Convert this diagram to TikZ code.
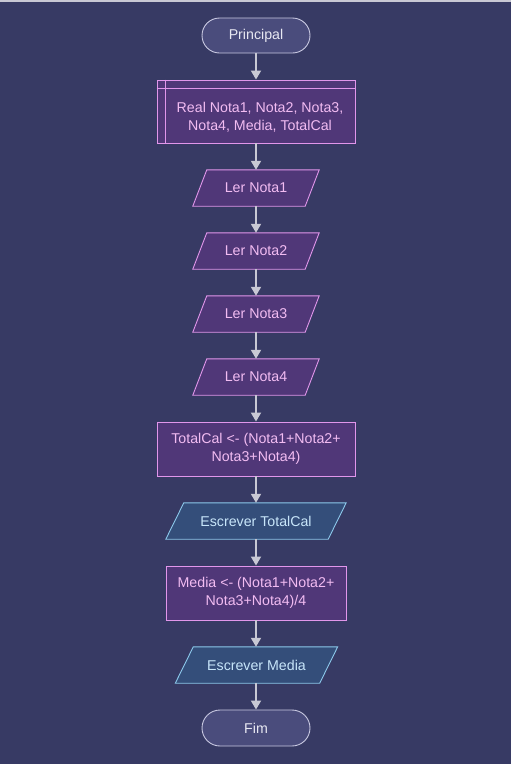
\documentclass[tikz,border=0pt]{standalone}
\usepackage{fontspec}
\setmainfont{Liberation Sans}
\usetikzlibrary{arrows.meta,backgrounds}
\definecolor{bgc}{RGB}{55,58,100}
\definecolor{termfill}{RGB}{74,76,124}
\definecolor{termdraw}{RGB}{200,200,225}
\definecolor{termtext}{RGB}{232,232,242}
\definecolor{procfill}{RGB}{80,55,120}
\definecolor{procdraw}{RGB}{225,150,235}
\definecolor{proctext}{RGB}{242,188,242}
\definecolor{outfill}{RGB}{52,78,122}
\definecolor{outdraw}{RGB}{140,200,235}
\definecolor{outtext}{RGB}{200,230,250}
\definecolor{arrc}{RGB}{200,200,212}
\tikzset{
  base/.style={inner sep=0pt, align=center, font=\fontsize{14.2}{18}\selectfont},
  term/.style={base, draw=termdraw, fill=termfill, text=termtext, line width=0.9pt,
     rounded corners=17.5pt, minimum width=108pt, minimum height=35pt},
  proc/.style={base, draw=procdraw, fill=procfill, text=proctext, line width=0.9pt},
  ler/.style={base, text=proctext, minimum height=36pt},
  outp/.style={base, text=outtext, minimum height=36pt},
  arr/.style={draw=arrc, line width=1.8pt, -{Triangle[width=10pt,length=9pt]}},
}
\newcommand{\parashape}[4]{%
  \filldraw[draw=#3, fill=#4, line width=0.9pt]
    ([xshift=#2]#1.north west) -- ([xshift=#2]#1.north east) --
    ([xshift=-#2]#1.south east) -- ([xshift=-#2]#1.south west) -- cycle;}
\begin{document}
\begin{tikzpicture}[x=1pt,y=-1pt]
\useasboundingbox (0,0) rectangle (511,764);
\begin{scope}[on background layer]
  \fill[bgc] (0,0) rectangle (511,764);
  \fill[arrc] (0,0) rectangle (511,1.5);
\end{scope}
\node[term] (start) at (256,35.5) {Principal};
\node[proc, minimum width=198pt, minimum height=63pt] (decl) at (256,111.5) {};
\draw[procdraw, line width=0.9pt] ([yshift=-8.5pt]decl.north west) -- ([yshift=-8.5pt]decl.north east);
\draw[procdraw, line width=0.9pt] ([xshift=9pt]decl.north west) -- ([xshift=9pt]decl.south west);
\node[base, text=proctext] (decltext) at (260,117) {Real Nota1, Nota2, Nota3,\\Nota4, Media, TotalCal};
\node[ler, minimum width=112pt] (l1) at (256,188) {Ler Nota1};
\node[ler, minimum width=112pt] (l2) at (256,251) {Ler Nota2};
\node[ler, minimum width=112pt] (l3) at (256,314) {Ler Nota3};
\node[ler, minimum width=112pt] (l4) at (256,377) {Ler Nota4};
\node[proc, minimum width=198pt, minimum height=54pt] (tot) at (256,449) {TotalCal <- (Nota1+Nota2+\\Nota3+Nota4)};
\node[outp, minimum width=162pt] (e1) at (256,521) {Escrever TotalCal};
\node[proc, minimum width=180pt, minimum height=54pt] (med) at (256,593) {Media <- (Nota1+Nota2+\\Nota3+Nota4)/4};
\node[outp, minimum width=144pt] (e2) at (256.5,665) {Escrever Media};
\node[term, minimum height=36pt, rounded corners=18pt] (fim) at (256,728) {Fim};
\begin{scope}[on background layer]
  \parashape{l1}{7pt}{procdraw}{procfill}
  \parashape{l2}{7pt}{procdraw}{procfill}
  \parashape{l3}{7pt}{procdraw}{procfill}
  \parashape{l4}{7pt}{procdraw}{procfill}
  \parashape{e1}{9pt}{outdraw}{outfill}
  \parashape{e2}{9pt}{outdraw}{outfill}
\end{scope}
\draw[arr] (start) -- (decl);
\draw[arr] (decl) -- (l1);
\draw[arr] (l1) -- (l2);
\draw[arr] (l2) -- (l3);
\draw[arr] (l3) -- (l4);
\draw[arr] (l4) -- (tot);
\draw[arr] (tot) -- (e1);
\draw[arr] (e1) -- (med);
\draw[arr] (med) -- (e2.north -| med.south);
\draw[arr] (e2.south -| fim.north) -- (fim);
\end{tikzpicture}
\end{document}
